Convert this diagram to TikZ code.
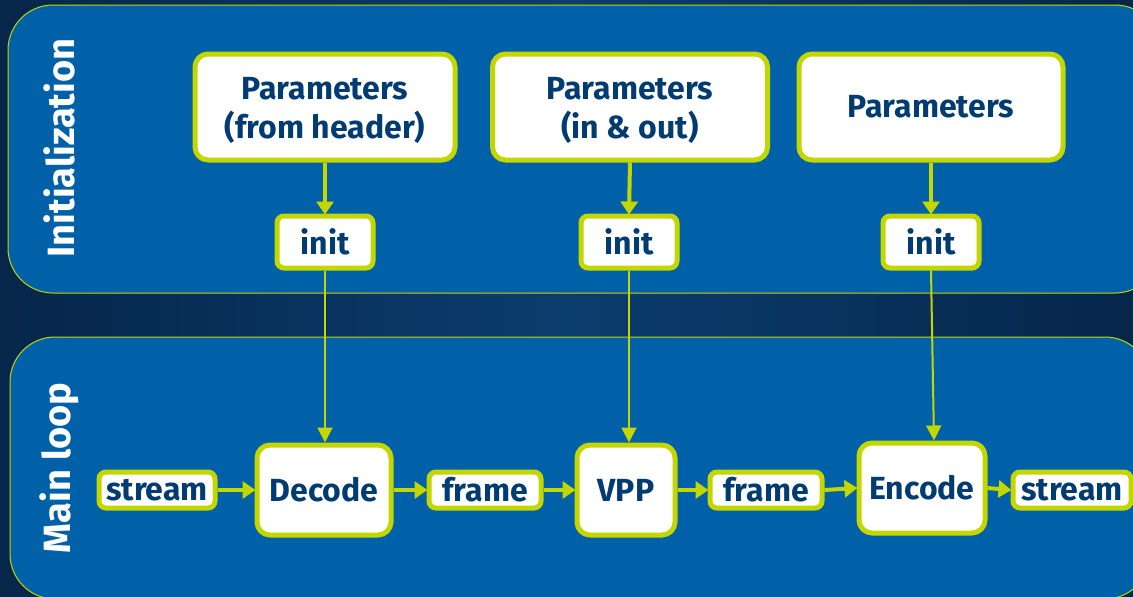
\documentclass[tikz,border=0pt]{standalone}
\usepackage{fontspec}
\setmainfont{Fira Sans}
\usetikzlibrary{arrows.meta}
\definecolor{bgdark}{HTML}{06264A}
\definecolor{bgmid}{HTML}{0B3D6E}
\definecolor{panel}{HTML}{0061A8}
\definecolor{lime}{HTML}{C4D600}
\definecolor{navy}{HTML}{003C71}
\tikzset{
  panelbox/.style={draw=lime, line width=1pt, fill=panel, rounded corners=45pt},
  box/.style={draw=lime, line width=5pt, fill=white, rounded corners=13pt, text=navy,
     font=\bfseries\fontsize{32}{39}\selectfont, align=center, inner sep=0pt},
  small/.style={draw=lime, line width=5pt, fill=white, rounded corners=7pt, text=navy,
     font=\bfseries\fontsize{32}{36}\selectfont, inner sep=0pt},
  thick arrow/.style={draw=lime, line width=4pt, -{Triangle[length=13pt,width=17pt]}, shorten >=-1pt},
  thin arrow/.style={draw=lime, line width=2pt, -{Triangle[length=15pt,width=15pt]}},
  sidelabel/.style={text=white, font=\bfseries\fontsize{38}{40}\selectfont, rotate=90, inner sep=0pt}
}
\begin{document}
\begin{tikzpicture}[x=1pt,y=-1pt]
\useasboundingbox (0,0) rectangle (1133,597);
\shade[left color=bgdark, right color=bgmid] (0,0) rectangle (566,597);
\shade[left color=bgmid, right color=bgdark] (566,0) rectangle (1133,597);
\path[panelbox] (8,5) rectangle (1160,293);
\path[panelbox] (10,337) rectangle (1150,599);
\node[sidelabel] (initlbl) at (59,148) {Initialization};
\node[sidelabel] (looplbl) at (59,468) {Main loop};
% parameter boxes
\node[box, minimum width=260pt, minimum height=106pt] (p1) at (325,107) {};
\node[box, minimum width=275pt, minimum height=106pt] (p2) at (630,107) {};
\node[box, minimum width=264pt, minimum height=106pt] (p3) at (931,107) {Parameters};
\node[text=navy, font=\bfseries\fontsize{32}{39}\selectfont, align=center, inner sep=0pt] (p1t) at (325,110) {Parameters\\(from header)};
\node[text=navy, font=\bfseries\fontsize{32}{39}\selectfont, align=center, inner sep=0pt] (p2t) at (630,110) {Parameters\\(in \& out)};
% init boxes
\node[small, minimum width=96pt, minimum height=52pt] (i1) at (325,242) {init};
\node[small, minimum width=96pt, minimum height=52pt] (i2) at (629,242) {init};
\node[small, minimum width=96pt, minimum height=52pt] (i3) at (931,242) {init};
% main loop
\node[small, minimum width=116pt, minimum height=36pt] (s1) at (157,490) {stream};
\node[box, minimum width=134pt, minimum height=90pt] (dec) at (324,490) {Decode};
\node[small, minimum width=112pt, minimum height=36pt] (f1) at (485,490) {frame};
\node[box, minimum width=98pt, minimum height=90pt] (vpp) at (626,490) {VPP};
\node[small, minimum width=112pt, minimum height=36pt] (f2) at (766,490) {frame};
\node[box, minimum width=126pt, minimum height=90pt] (enc) at (922,488) {Encode};
\node[small, minimum width=118pt, minimum height=36pt] (s2) at (1072,490) {stream};
% arrows
\draw[thick arrow] (p1.south) -- (i1.north);
\draw[thick arrow] (p2.south) -- (i2.north);
\draw[thick arrow] (p3.south) -- (i3.north);
\draw[thin arrow] (i1.south) -- (i1.south |- dec.north);
\draw[thin arrow] (i2.south) -- (i2.south |- vpp.north);
\draw[thin arrow] (i3.south) -- ([xshift=3pt]i3.south |- enc.north);
\draw[thick arrow] (s1.east) -- (dec.west);
\draw[thick arrow] (dec.east) -- (f1.west);
\draw[thick arrow] (f1.east) -- (vpp.west);
\draw[thick arrow] (vpp.east) -- (f2.west);
\draw[thick arrow] (f2.east) -- (enc.west);
\draw[thick arrow] (enc.east) -- (s2.west);
\end{tikzpicture}
\end{document}
